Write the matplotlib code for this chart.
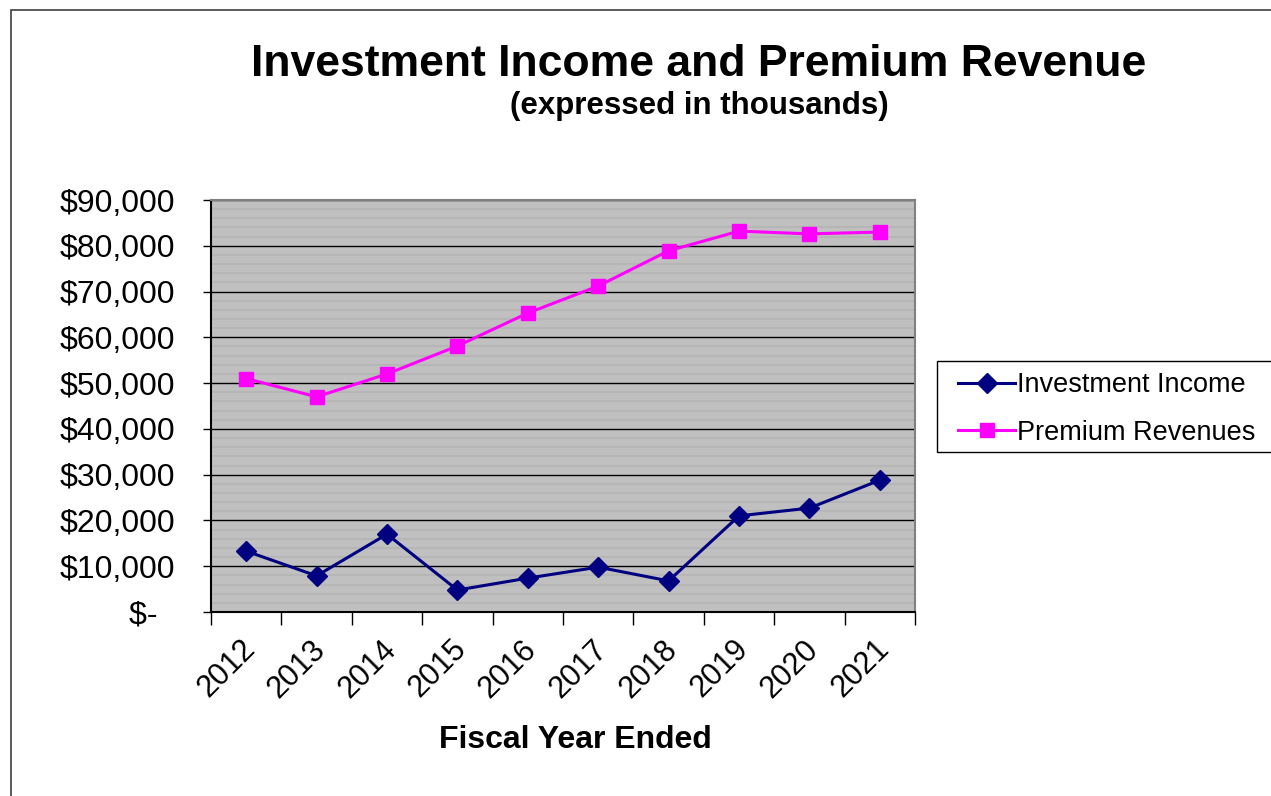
import matplotlib
matplotlib.use("Agg")
import matplotlib.pyplot as plt
import matplotlib.transforms as mtransforms
from matplotlib.ticker import FuncFormatter, MultipleLocator, FixedLocator
from matplotlib.patches import Rectangle

years = ["2012", "2013", "2014", "2015", "2016", "2017", "2018", "2019", "2020", "2021"]
investment_income = [13300, 7900, 17000, 4800, 7400, 9800, 6800, 21000, 22700, 28800]
premium_revenues = [51000, 47000, 52000, 58100, 65300, 71200, 78900, 83200, 82600, 83000]

plt.rcParams["font.family"] = ["Liberation Sans", "DejaVu Sans"]

W, H = 1271, 796
fig = plt.figure(figsize=(W / 100, H / 100), dpi=100)
ax = fig.add_axes([211 / W, 1 - 612 / H, (915 - 211) / W, (612 - 200) / H])

# outer chart frame (only top/left visible in the crop)
fig.patches.append(Rectangle((11 / W, -0.05), 1.2, 1 - 10 / H + 0.05,
                             transform=fig.transFigure, fill=False,
                             edgecolor="#404040", linewidth=1.2))

x = list(range(len(years)))
ax.set_facecolor("#C0C0C0")

# faint stripe texture + major gridlines
ax.yaxis.set_minor_locator(MultipleLocator(2000))
ax.grid(which="minor", axis="y", color="#B6B6B6", linewidth=1.5)
ax.grid(which="major", axis="y", color="black", linewidth=1.0)
ax.set_axisbelow(True)

l1, = ax.plot(x, investment_income, color="#000080", linewidth=2.2, marker="D",
              markersize=10, label="Investment Income", zorder=3)
l2, = ax.plot(x, premium_revenues, color="#FF00FF", linewidth=2.2, marker="s",
              markersize=10.5, label="Premium Revenues", zorder=3)

ax.set_xlim(-0.5, len(years) - 0.5)
ax.set_ylim(0, 90000)
ax.yaxis.set_major_locator(MultipleLocator(10000))
ax.yaxis.set_major_formatter(FuncFormatter(lambda v, p: "$-  " if v == 0 else f"${v:,.0f}"))
ax.tick_params(axis="y", which="major", direction="out", length=6, width=1,
               labelsize=23, pad=20)
ax.tick_params(axis="y", which="minor", length=0)

ax.xaxis.set_major_locator(FixedLocator([i - 0.5 for i in range(len(years) + 1)]))
ax.set_xticklabels([])
ax.xaxis.set_minor_locator(FixedLocator(x))
ax.set_xticklabels(years, minor=True, rotation=45, ha="right", rotation_mode="anchor",
                   fontsize=22)
ax.tick_params(axis="x", which="major", direction="out", length=9, width=1)
ax.tick_params(axis="x", which="minor", length=0, pad=16)
shift = mtransforms.ScaledTranslation(-6 / 100, 0, fig.dpi_scale_trans)
for lbl in ax.get_xticklabels(minor=True):
    lbl.set_transform(lbl.get_transform() + shift)

ax.spines["left"].set_color("black")
ax.spines["bottom"].set_color("black")
ax.spines["top"].set_color("#808080")
ax.spines["right"].set_color("#808080")
for s in ax.spines.values():
    s.set_linewidth(1.5)

fig.text(575 / W, 1 - 740 / H, "Fiscal Year Ended", ha="center", va="center",
         fontsize=23, fontweight="bold")

fig.text(699 / W, 1 - 64 / H, "Investment Income and Premium Revenue",
         ha="center", va="center", fontsize=32, fontweight="bold")
fig.text(699 / W, 1 - 106 / H, "(expressed in thousands)",
         ha="center", va="center", fontsize=22.5, fontweight="bold")

# legend box
fig.patches.append(Rectangle((937 / W, 1 - 452 / H), 1.0, (452 - 361) / H,
                             transform=fig.transFigure, fill=True, facecolor="white",
                             edgecolor="black", linewidth=1.0))
leg = fig.legend(handles=[l1, l2], loc="upper left",
                 bbox_to_anchor=(953 / W, 1 - 367 / H),
                 fontsize=19.5, frameon=False, handlelength=2.1,
                 handletextpad=0.05, borderpad=0.2, labelspacing=0.78,
                 borderaxespad=0)

fig.savefig("out.png", dpi=100)
